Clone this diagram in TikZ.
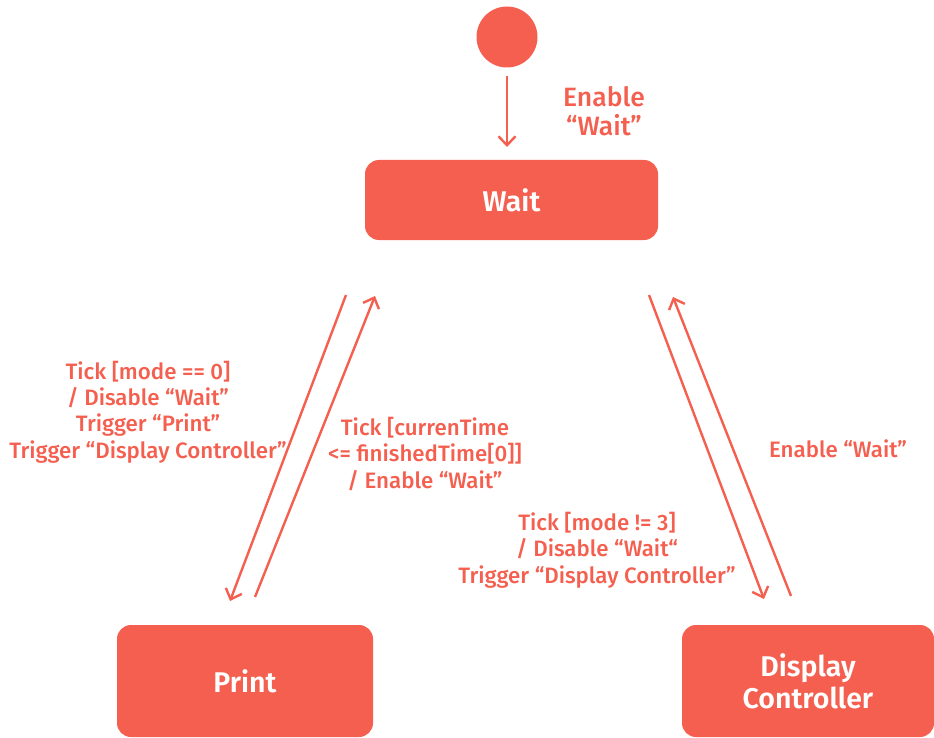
\documentclass[tikz,border=0pt]{standalone}
\usepackage{fontspec}
\setmainfont{Fira Sans}[UprightFont={* Medium}, BoldFont={* SemiBold}]
\usetikzlibrary{arrows.meta}
\definecolor{coral}{RGB}{244,95,79}
\begin{document}
\begin{tikzpicture}[x=1pt,y=-1pt,
  statebox/.style={fill=coral, draw=none, rounded corners=14pt, text=white,
    font=\bfseries\fontsize{28.5}{32}\selectfont, align=center, inner sep=0pt},
  initnode/.style={circle, fill=coral, draw=none, minimum size=61pt, inner sep=0pt},
  lbl/.style={text=coral, font=\fontsize{22.3}{26.3}\selectfont, align=center, inner sep=0pt},
  conn/.style={draw=coral, line width=2.4pt, -{Straight Barb[length=9pt,width=17pt,line width=2.4pt]}}]
\useasboundingbox (0,0) rectangle (934,738);
\node[initnode] (init) at (507,37) {};
\node[statebox, minimum width=293pt, minimum height=80pt] (wait) at (511.5,200) {Wait};
\node[statebox, minimum width=256pt, minimum height=112pt] (print) at (245,681) {Print};
\node[statebox, minimum width=252pt, minimum height=112pt] (disp) at (808,681) {Display\\Controller};

\coordinate (i0) at (507,76);
\coordinate (i1) at (507,147);
\coordinate (a0) at (346,295);
\coordinate (a1) at (230,601);
\coordinate (b0) at (255,597);
\coordinate (b1) at (375,296);
\coordinate (c0) at (649,295);
\coordinate (c1) at (764,599);
\coordinate (d0) at (791,596);
\coordinate (d1) at (673,297);

\draw[conn] (i0) -- (i1);
\draw[conn] (a0) -- (a1);
\draw[conn] (b0) -- (b1);
\draw[conn] (c0) -- (c1);
\draw[conn] (d0) -- (d1);

\node[lbl, font=\fontsize{26.5}{28.5}\selectfont] (l0) at (604,111) {Enable\\“Wait”};
\node[lbl] (l1) at (148,412) {Tick [mode == 0]\\/ Disable “Wait”\\Trigger “Print”\\Trigger “Display Controller”};
\node[lbl] (l2) at (425,454) {Tick [currenTime\\<= finishedTime[0]]\\/ Enable “Wait”};
\node[lbl] (l3) at (597,550) {Tick [mode != 3]\\/ Disable “Wait“\\Trigger “Display Controller”};
\node[lbl] (l4) at (838,449) {Enable “Wait”};
\end{tikzpicture}
\end{document}
